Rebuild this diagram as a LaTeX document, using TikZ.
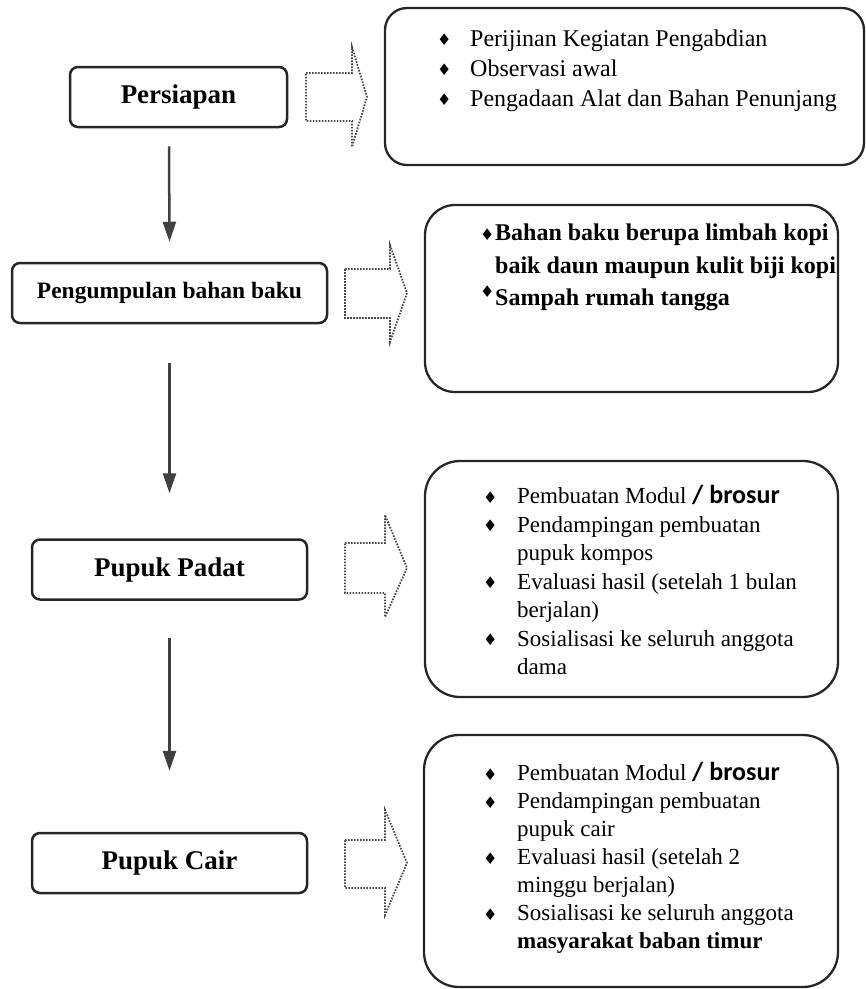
\documentclass[tikz,border=0pt]{standalone}
\usepackage{fontspec}
\setmainfont{Liberation Serif}
\newfontfamily\calib{Carlito}
\newfontfamily\dejavu{DejaVu Sans}
\usetikzlibrary{arrows.meta}

\newcommand{\butir}[1][33pt]{\makebox[#1][l]{\raisebox{0.5pt}{\fontsize{16}{16}\selectfont\dejavu ♦}}}
\newcommand{\brosur}{{\calib\bfseries\fontsize{26}{26}\selectfont / brosur}}

\begin{document}
\begin{tikzpicture}[x=1pt,y=-1pt,
  tahap/.style={rectangle,rounded corners=8pt,draw=black!85,line width=2.5pt,
                inner sep=0pt,minimum height=60pt,font=\bfseries\fontsize{27}{30}\selectfont},
  ket/.style={rectangle,rounded corners=#1,draw=black!85,line width=2.3pt,inner sep=0pt},
  daftar/.style={anchor=north west,align=left,inner sep=0pt},
  alur/.style={-{Triangle[length=20pt,width=13pt]},line width=2.5pt,draw=black!75},
  blok/.style={draw=black!72,line width=1.8pt,dash pattern=on 1.6pt off 1.4pt,line join=miter},
]
  \useasboundingbox (0,0) rectangle (866,989);

  % tahapan
  \node[tahap,minimum width=217pt] (persiapan) at (178.5,97) {Persiapan};
  \node[tahap,minimum width=315pt,font=\bfseries\fontsize{23.5}{28}\selectfont] (kumpul) at (169.5,293) {Pengumpulan bahan baku};
  \node[tahap,minimum width=275pt] (padat) at (169.5,569.5) {Pupuk Padat};
  \node[tahap,minimum width=275pt] (cair) at (169.5,863) {Pupuk Cair};

  % alur ke bawah
  \draw[alur] ([xshift=-9.5pt,yshift=-18pt]persiapan.south) -- ([yshift=20pt]kumpul.north);
  \draw[alur] ([yshift=-39pt]kumpul.south) -- ([yshift=45pt]padat.north);
  \draw[alur] ([yshift=-37pt]padat.south) -- ([yshift=61pt]cair.north);

  % panah blok bertitik
  \draw[blok] (306,73) -- (352,73) -- (352,47) -- (367,97) -- (352,147) -- (352,121) -- (306,121) -- cycle;
  \draw[blok] (345,269) -- (390,269) -- (390,245) -- (407,293) -- (390,342) -- (390,318) -- (345,318) -- cycle;
  \draw[blok] (345,543) -- (385,543) -- (385,515) -- (407,568) -- (385,617) -- (385,593) -- (345,593) -- cycle;
  \draw[blok] (345,840) -- (385,840) -- (385,810) -- (407,863) -- (385,915) -- (385,888) -- (345,888) -- cycle;

  % keterangan
  \node[ket=22pt,minimum width=479pt,minimum height=157pt] (ket1) at (624.5,86.5) {};
  \node[ket=30pt,minimum width=413pt,minimum height=187pt] (ket2) at (631.5,298.5) {};
  \node[ket=35pt,minimum width=413pt,minimum height=236pt] (ket3) at (631.5,579) {};
  \node[ket=35pt,minimum width=414pt,minimum height=252pt] (ket4) at (631,861) {};

  \node[daftar,font=\fontsize{24}{30}\selectfont] (isi1) at (437,29.6)
    {\butir Perijinan Kegiatan Pengabdian\\
     \butir Observasi awal\\
     \butir Pengadaan Alat dan Bahan Penunjang};
  \node[daftar,font=\bfseries\fontsize{24}{32.5}\selectfont] (isi2) at (480,224)
    {\butir[15pt]Bahan baku berupa limbah kopi\\
     \hspace*{15pt}baik daun maupun kulit biji kopi\\
     \raisebox{8pt}{\butir[15pt]}Sampah rumah tangga};
  \node[daftar,font=\fontsize{23}{28.5}\selectfont] (isi3) at (483,485.5)
    {\butir[34pt]Pembuatan Modul \brosur\\
     \butir[34pt]Pendampingan pembuatan\\
     \hspace*{34pt}pupuk kompos\\
     \butir[34pt]Evaluasi hasil (setelah 1 bulan\\
     \hspace*{34pt}berjalan)\\
     \butir[34pt]Sosialisasi ke seluruh anggota\\
     \hspace*{34pt}dama};
  \node[daftar,font=\fontsize{23}{28}\selectfont] (isi4) at (483,762.5)
    {\butir[34pt]Pembuatan Modul \brosur\\
     \butir[34pt]Pendampingan pembuatan\\
     \hspace*{34pt}pupuk cair\\
     \butir[34pt]Evaluasi hasil (setelah 2\\
     \hspace*{34pt}minggu berjalan)\\
     \butir[34pt]Sosialisasi ke seluruh anggota\\
     \hspace*{34pt}\textbf{masyarakat baban timur}};
\end{tikzpicture}
\end{document}
